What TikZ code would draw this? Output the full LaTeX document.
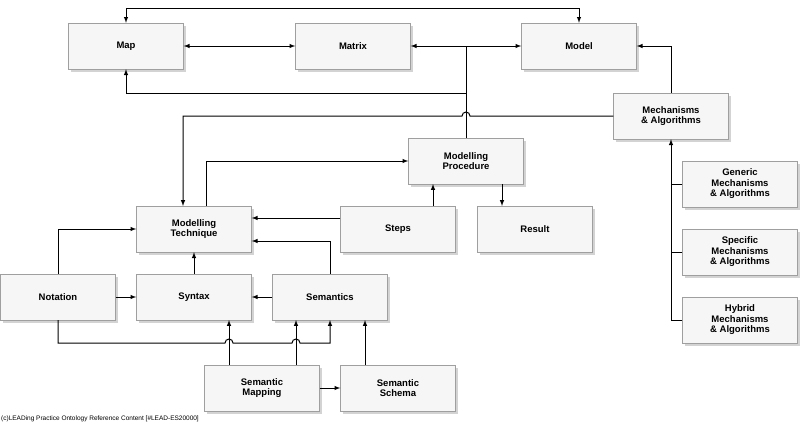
\documentclass[tikz,border=0pt]{standalone}
\usepackage{fontspec}
\setmainfont{Liberation Sans}
\usetikzlibrary{shadows}
\tikzset{
  box/.style={draw=gray!75, fill=gray!7, minimum width=115pt, minimum height=46pt,
    align=center, font=\fontsize{9.5}{10.5}\selectfont\bfseries, drop shadow={opacity=0.35}},
  link/.style={line width=1pt, -latex},
  both/.style={line width=1pt, latex-latex},
  plain/.style={line width=1pt}
}
\begin{document}
\begin{tikzpicture}[x=1pt, y=1pt]
      \useasboundingbox (0,0) rectangle (800,-426);

      % Top row
      \node[box] (map) at (126,-46) {Map};
      \node[box] (matrix) at (353,-46) {Matrix};
      \node[box] (model) at (579,-46) {Model};

      % Middle boxes
      \node[box] (mech) at (671,-116) {Mechanisms\\\& Algorithms};
      \node[box] (proc) at (466,-161) {Modelling\\Procedure};
      \node[box] (tech) at (194,-229) {Modelling\\Technique};
      \node[box] (steps) at (398,-229) {Steps};
      \node[box] (result) at (535,-229) {Result};
      \node[box] (notation) at (58,-297) {Notation};
      \node[box] (syntax) at (194,-297) {Syntax};
      \node[box] (semantics) at (330,-297) {Semantics};
      \node[box] (mapping) at (262,-388) {Semantic\\Mapping};
      \node[box] (schema) at (398,-388) {Semantic\\Schema};

      % Mechanism kinds
      \node[box] (generic) at (740,-184) {Generic\\Mechanisms\\\& Algorithms};
      \node[box] (specific) at (740,-252) {Specific\\Mechanisms\\\& Algorithms};
      \node[box] (hybrid) at (740,-320) {Hybrid\\Mechanisms\\\& Algorithms};

      % Top row connections
      \draw[both] (map.north) -- ++(0,14) -| (model.north);
      \draw[both] (map) -- (matrix);
      \draw[both] (matrix) -- (model);
      \draw[plain] (proc.north) -- (proc.north |- model);
      \draw[link] (proc.north |- 0,-93) -| (map.south);
      \draw[link] (mech.north) |- (model.east);

      % Mechanisms to technique, jumping the procedure line
      \draw[link] (mech.west) -- (470,-116) arc (0:180:4) -| (183,-206);

      % Procedure, steps and result
      \draw[link] (206,-206) |- (proc.west);
      \draw[link] (433,-206) -- (433,-184);
      \draw[link] (502,-184) -- (502,-206);
      \draw[link] (steps.west |- 0,-218) -- (tech.east |- 0,-218);
      \draw[link] (semantics.north) |- (tech.east |- 0,-241);

      % Language parts
      \draw[link] (syntax) -- (tech);
      \draw[link] (notation) -- (syntax);
      \draw[link] (semantics) -- (syntax);
      \draw[link] (notation.north) |- (tech.west |- 0,-229);
      \draw[link] (notation.south) |- (225,-343) arc (180:0:4) -- (292,-343)
        arc (180:0:4) -| (330,-320);
      \draw[link] (229,-365) -- (229,-320);
      \draw[link] (296,-365) -- (296,-320);
      \draw[link] (365,-365) -- (365,-320);
      \draw[link] (mapping) -- (schema);

      % Mechanism kinds
      \draw[link] (671,-320) -- (mech.south);
      \draw[plain] (generic.west) -- (671,-184);
      \draw[plain] (specific.west) -- (671,-252);
      \draw[plain] (hybrid.west) -- (671,-320);

      % Footer
      \node[anchor=west, font=\fontsize{6.5}{7}\selectfont, inner sep=1pt] (foot) at (0,-419)
        {(c)LEADing Practice Ontology Reference Content [\#LEAD-ES20000]};
\end{tikzpicture}
\end{document}
